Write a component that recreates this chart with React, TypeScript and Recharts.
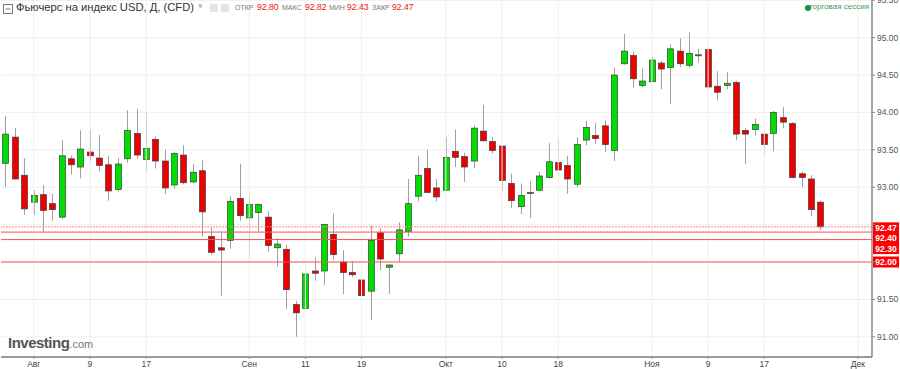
import React from 'react';
import { Bar, CartesianGrid, ComposedChart, ReferenceLine, XAxis, YAxis } from 'recharts';

// daily candles, Aug–Nov
const opens = [
  93.32, 93.67, 93.16, 92.8, 92.9, 92.78, 92.6, 93.38, 93.27, 93.47, 93.39, 93.3, 92.97, 93.38, 93.72, 93.37,
  93.64, 93.35, 93.03, 93.43, 93.07, 93.22, 92.34, 92.19, 92.29, 92.85, 92.59, 92.66, 92.6, 92.19, 92.17, 91.43,
  91.38, 91.88, 91.88, 92.37, 92.0, 91.86, 91.76, 91.61, 92.39, 91.93, 92.11, 92.41, 92.88, 93.25, 92.99, 92.96,
  93.48, 93.41, 93.35, 93.75, 93.61, 93.55, 93.05, 92.74, 92.92, 92.96, 93.13, 93.33, 93.29, 93.04, 93.63, 93.69,
  93.82, 93.49, 94.65, 94.76, 94.36, 94.41, 94.66, 94.6, 94.82, 94.63, 94.76, 94.84, 94.35, 94.36, 94.4, 93.76,
  93.77, 93.71, 93.72, 93.93, 93.85, 93.18, 93.11, 92.8,
];
const highs = [
  93.95, 93.79, 93.39, 92.96, 93.03, 92.91, 93.63, 93.42, 93.76, 93.77, 93.7, 93.42, 93.39, 94.03, 94.05, 94.0,
  93.68, 93.5, 93.47, 93.56, 93.31, 93.36, 92.46, 92.41, 92.88, 93.31, 92.91, 92.78, 92.68, 92.32, 92.23, 91.48,
  91.97, 92.06, 92.51, 92.65, 92.16, 92.01, 91.83, 92.49, 92.45, 91.97, 92.53, 93.11, 93.42, 93.5, 93.11, 93.67,
  93.77, 93.46, 93.83, 94.1, 93.67, 93.56, 93.18, 93.05, 93.08, 93.21, 93.59, 93.65, 93.42, 93.67, 93.89, 93.86,
  93.89, 94.6, 95.05, 94.82, 94.59, 94.74, 94.69, 94.91, 94.99, 95.07, 94.85, 94.85, 94.55, 94.54, 94.42, 93.79,
  93.92, 93.73, 94.02, 94.07, 93.87, 93.21, 93.16, 92.82,
];
const lows = [
  93.0, 93.1, 92.63, 92.63, 92.39, 92.55, 92.58, 93.17, 93.12, 93.35, 93.21, 92.82, 92.94, 93.33, 93.38, 93.21,
  93.25, 92.91, 92.98, 93.04, 93.06, 92.34, 92.1, 91.55, 92.18, 92.55, 92.05, 92.41, 92.14, 91.94, 91.37, 91.0,
  91.37, 91.75, 91.69, 92.03, 91.57, 91.8, 91.52, 91.22, 91.89, 91.57, 92.0, 92.34, 92.81, 92.92, 92.81, 92.95,
  93.27, 93.07, 93.25, 93.61, 93.45, 92.95, 92.72, 92.64, 92.59, 92.95, 93.12, 93.22, 92.91, 93.0, 93.56, 93.58,
  93.47, 93.35, 94.64, 94.33, 94.34, 94.41, 94.31, 94.11, 94.61, 94.6, 94.67, 94.32, 94.16, 94.31, 93.63, 93.31,
  93.69, 93.42, 93.48, 93.79, 93.12, 93.0, 92.61, 92.43,
];
const closes = [
  93.71, 93.11, 92.71, 92.89, 92.69, 92.7, 93.42, 93.3, 93.51, 93.42, 93.29, 92.95, 93.31, 93.76, 93.43, 93.52,
  93.35, 92.99, 93.45, 93.06, 93.2, 92.67, 92.13, 92.16, 92.81, 92.62, 92.77, 92.77, 92.22, 92.24, 91.63, 91.32,
  91.84, 91.85, 92.5, 92.1, 91.86, 91.83, 91.55, 92.29, 92.04, 91.96, 92.43, 92.78, 93.16, 92.93, 92.87, 93.4,
  93.4, 93.27, 93.79, 93.62, 93.49, 93.09, 92.82, 92.89, 92.93, 93.15, 93.34, 93.23, 93.11, 93.57, 93.8, 93.65,
  93.57, 94.5, 94.82, 94.45, 94.42, 94.7, 94.58, 94.85, 94.65, 94.79, 94.77, 94.34, 94.27, 94.39, 93.71, 93.71,
  93.84, 93.57, 94.0, 93.87, 93.13, 93.13, 92.7, 92.47,
];

const tickIndex = [3, 9, 15, 26, 32, 38, 47, 53, 59, 69, 75, 81, 91];
const tickLabels = ['Авг', '9', '17', 'Сен', '11', '19', 'Окт', '10', '18', 'Ноя', '9', '17', 'Дек'];
const priceTicks = [91, 91.5, 92, 92.5, 93, 93.5, 94, 94.5, 95, 95.5];
// price labels that sit under the red level tags
const hiddenPriceLabels = [92, 92.5];
const levels = [92.47, 92.4, 92.3, 92.0];
const levelLabelShift = [1, 6, 9, 0];

const SLOTS = 93;
const FONT = '"Liberation Sans", Arial, sans-serif';

const data = Array.from({ length: SLOTS }, (_, i) =>
  i < opens.length ? { i, open: opens[i], high: highs[i], low: lows[i], close: closes[i] } : { i },
);

function Candle(props: any) {
  const { x, y, width, height, payload } = props;
  if (!payload || payload.high == null) return null;
  const { open, high, low, close } = payload;
  const top = Math.min(y, y + height);
  const full = Math.abs(height);
  const k = high > low ? full / (high - low) : 0;
  const cx = Math.round(x + width / 2) + 0.5;
  const yo = top + (high - open) * k;
  const yc = top + (high - close) * k;
  const bodyTop = Math.min(yo, yc);
  const bodyH = Math.max(Math.abs(yc - yo), 1);
  const up = close >= open;
  return (
    <g>
      <line x1={cx} x2={cx} y1={top} y2={top + full} stroke="#a0a0a0" strokeWidth={1} />
      <rect
        x={cx - 3}
        y={bodyTop}
        width={6}
        height={bodyH}
        fill={up ? '#00dd00' : '#ee0000'}
        stroke="#3c3c3c"
        strokeWidth={0.7}
      />
    </g>
  );
}

function DateTick(props: any) {
  const { x, y, payload } = props;
  const pos = tickIndex.indexOf(payload.value);
  if (pos < 0) return null;
  return (
    <g>
      <line x1={x} x2={x} y1={y} y2={y + 2} stroke="#999" />
      <text x={x} y={y + 10} textAnchor="middle" fontSize={8.5} fill="#444" fontFamily={FONT}>
        {tickLabels[pos]}
      </text>
    </g>
  );
}

function LevelTag(props: any) {
  const { viewBox, value, shift } = props;
  const left = viewBox.x + viewBox.width + 1;
  const cy = viewBox.y + shift;
  return (
    <g>
      <rect x={left} y={cy - 5.5} width={26} height={11} fill="#ff0000" />
      <text x={left + 13} y={cy + 3} textAnchor="middle" fontSize={8.5} fontWeight="bold" fill="#fff" fontFamily={FONT}>
        {value.toFixed(2)}
      </text>
    </g>
  );
}

const ohlc: [string, number, string, number][] = [
  ['ОТКР', 235, '92.80', 257],
  ['МАКС', 282, '92.82', 305],
  ['МИН', 329, '92.43', 347],
  ['ЗАКР', 372, '92.47', 392],
];

export default function App() {
  return (
    <div style={{ position: 'absolute', left: 0, top: 0, width: 900, height: 369, background: '#fff', fontFamily: FONT }}>
      <ComposedChart width={900} height={369} data={data} margin={{ top: 0, right: 0, bottom: 0, left: 1 }}>
        <CartesianGrid vertical={false} stroke="#efefef" />
        {tickIndex.map((t) => (
          <ReferenceLine key={`g${t}`} x={t} stroke="#efefef" />
        ))}
        <XAxis
          dataKey="i"
          type="category"
          interval={0}
          height={12}
          axisLine={{ stroke: '#9a9a9a', strokeWidth: 2 }}
          tickLine={false}
          tickSize={0}
          tickMargin={0}
          tick={<DateTick />}
        />
        <YAxis
          orientation="right"
          type="number"
          domain={[90.73, 95.503]}
          allowDataOverflow
          ticks={priceTicks}
          interval={0}
          width={28}
          tickFormatter={(v: number) => (hiddenPriceLabels.includes(v) ? '' : v.toFixed(2))}
          axisLine={{ stroke: '#8a8a8a', strokeWidth: 1.5 }}
          tickLine={{ stroke: '#8a8a8a' }}
          tickSize={3}
          tick={{ fill: '#555', fontSize: 8.5, fontFamily: FONT }}
        />
        <Bar
          dataKey={(d: any) => (d.high == null ? null : [d.low, d.high])}
          shape={<Candle />}
          isAnimationActive={false}
        />
        {levels.map((v, n) => (
          <ReferenceLine
            key={`l${v}`}
            y={v}
            stroke={n === 0 ? '#ff8080' : '#ff5050'}
            strokeDasharray={n === 0 ? '2 1' : undefined}
            label={<LevelTag value={v} shift={levelLabelShift[n]} />}
          />
        ))}
      </ComposedChart>

      <svg style={{ position: 'absolute', left: 3, top: 4 }} width={10} height={10}>
        <rect x={0.5} y={0.5} width={9} height={9} fill="#fff" stroke="#777" />
        <line x1={2.5} x2={7.5} y1={5} y2={5} stroke="#777" />
      </svg>
      <div style={{ position: 'absolute', left: 16, top: 1, fontSize: 11.2, color: '#333', whiteSpace: 'nowrap' }}>
        Фьючерс на индекс USD, Д, (CFD)
      </div>
      <div style={{ position: 'absolute', left: 198, top: 1, fontSize: 9, color: '#bbb' }}>▾</div>
      <div style={{ position: 'absolute', left: 210, top: 4, width: 8, height: 8, background: '#e4e4e4' }} />
      <div style={{ position: 'absolute', left: 221, top: 4, width: 8, height: 8, background: '#e4e4e4' }} />
      {ohlc.map(([lab, lx, val, vx]) => (
        <React.Fragment key={lab}>
          <div style={{ position: 'absolute', left: lx, top: 4, fontSize: 7, color: '#777', whiteSpace: 'nowrap' }}>
            {lab}
          </div>
          <div style={{ position: 'absolute', left: vx, top: 2, fontSize: 8.6, color: '#ee1111', whiteSpace: 'nowrap' }}>
            {val}
          </div>
        </React.Fragment>
      ))}
      <div style={{ position: 'absolute', left: 805, top: 5, width: 6, height: 6, borderRadius: 3, background: '#1f8b4c' }} />
      <div style={{ position: 'absolute', right: 31, top: 2, fontSize: 8, color: '#3a9a62', whiteSpace: 'nowrap' }}>
        торговая сессия
      </div>
      <div style={{ position: 'absolute', left: 8, top: 334, whiteSpace: 'nowrap', color: '#555' }}>
        <span style={{ fontSize: 15, fontWeight: 'bold', letterSpacing: -0.5 }}>Investing</span>
        <span style={{ fontSize: 11, color: '#777' }}>.com</span>
      </div>
    </div>
  );
}
